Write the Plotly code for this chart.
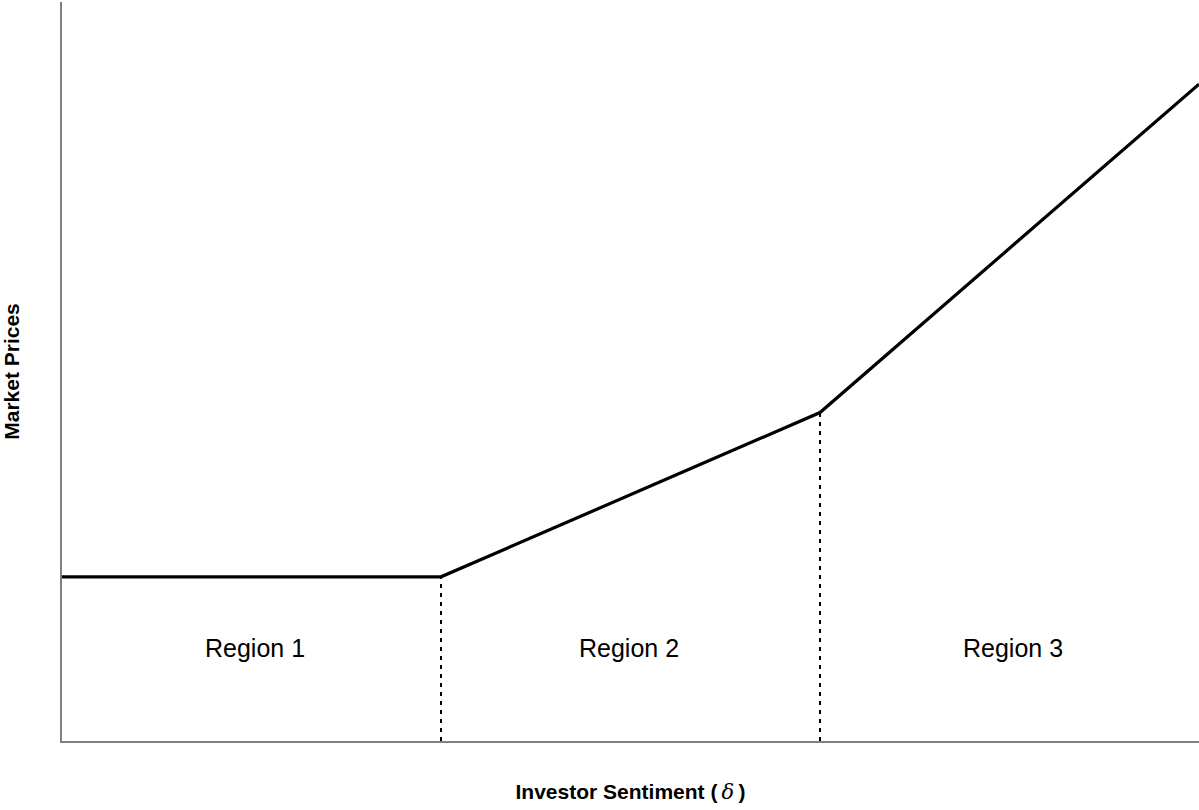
import plotly.graph_objects as go

# Data
sentiment_x = [0, 1, 2, 3]
market_price = [1, 1, 2, 4]
boundary_x = [1, 2]
boundary_top = [1, 2]
region_labels = ["Region 1", "Region 2", "Region 3"]
region_x = [0.51, 1.495, 2.51]
region_label_y = 0.567

FONT = "Liberation Sans, Arial, sans-serif"

fig = go.Figure()

fig.add_trace(go.Scatter(
    x=sentiment_x, y=market_price, mode="lines",
    line=dict(color="black", width=3.2), showlegend=False, hoverinfo="skip",
))

for bx, by in zip(boundary_x, boundary_top):
    fig.add_trace(go.Scatter(
        x=[bx, bx], y=[0, by], mode="lines",
        line=dict(color="black", width=2, dash="4px,5px"),
        showlegend=False, hoverinfo="skip",
    ))

for lab, rx in zip(region_labels, region_x):
    fig.add_annotation(
        x=rx, y=region_label_y, xref="x", yref="y", text=lab,
        showarrow=False, font=dict(family=FONT, size=25, color="black"),
    )

fig.update_layout(
    width=1199, height=810,
    margin=dict(l=62, r=0, t=2, b=69),
    paper_bgcolor="white", plot_bgcolor="white",
    font=dict(family=FONT, color="black"),
)
fig.update_xaxes(
    range=[0, 3], showgrid=False, zeroline=False, showticklabels=False, ticks="",
    showline=True, linecolor="#808080", linewidth=1.5,
    title=dict(text="<b>Investor Sentiment (</b>\u2009<span style=\"font-family:'DejaVu Serif'\"><i>δ</i></span>\u2009<b>)</b>",
               font=dict(family=FONT, size=21, color="black"), standoff=43),
)
fig.update_yaxes(
    range=[0, 4.5], showgrid=False, zeroline=False, showticklabels=False, ticks="",
    showline=True, linecolor="#808080", linewidth=1.5,
    title=dict(text="<b>Market Prices</b>",
               font=dict(family=FONT, size=21, color="black"), standoff=38),
)

fig.write_html(
    "out.html",
    config={"displayModeBar": False},
    post_script="document.body.style.margin='0';document.body.style.overflow='hidden';",
)
